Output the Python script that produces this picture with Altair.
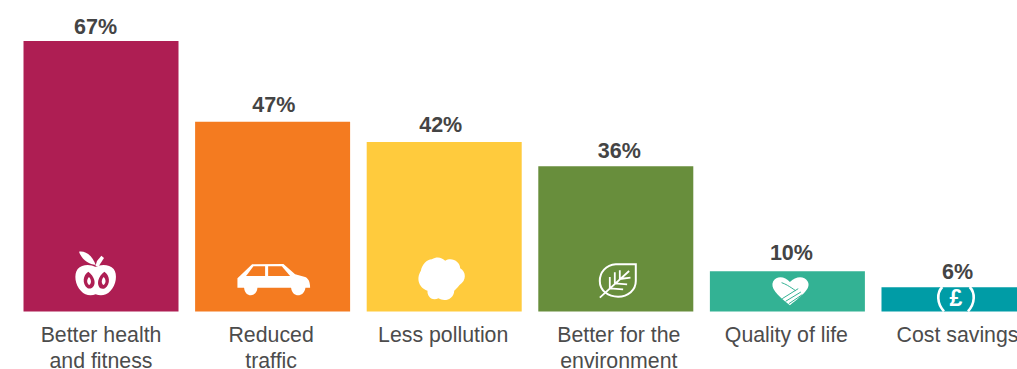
import re
import altair as alt
import pandas as pd

categories = ["Better health\nand fitness", "Reduced\ntraffic", "Less pollution",
              "Better for the\nenvironment", "Quality of life", "Cost savings"]
values = [67, 47, 42, 36, 10, 6]
colors = ["#ae1e53", "#f47b20", "#ffcb3d", "#688e3c", "#33b294", "#009ca6"]
value_text = ["67%", "47%", "42%", "36%", "10%", "6%"]

# Small horizontal and vertical nudges for the two kinds of label
value_dx = [-5.5, 1.2, -3.5, 3.5, 4, -1.5]
value_dy = [-7.5, -10, -10, -8.5, -11, -8]
category_dx = [0, -1.5, -1, 3, -1, -1.5]

FONT = "Liberation Sans"
TEXT = "#444444"
WHITE = "#ffffff"


def icon(path, ox, oy):
    """Turn a path drawn at 3x into unit-scale coordinates around (ox, oy)."""
    nums = iter(re.findall(r"[A-Za-z]|-?\d+\.?\d*", path))
    out, is_x = [], True
    for tok in nums:
        if tok.isalpha():
            out.append(tok)
            is_x = True
        else:
            v = float(tok) / 3 + (ox if is_x else oy)
            out.append(f"{v:.2f}")
            is_x = not is_x
    return " ".join(out)


APPLE = (-36, -66.5)
CAR = (-42.5, -56.5)
CLOUD = (-34, -61.5)
LEAF = (-26, -56.5)
HEART = (-22.5, -43.5)
POUND = (-29, -31.5)

# (category index, path, fill, stroke, stroke width)
icon_parts = [
    # apple
    (0, icon("M92 66C75 56 50 58 38 72C26 88 30 120 48 138C60 152 78 153 92 148C106 153 124 152 136 138C154 120 158 88 146 72C134 58 108 56 92 66Z", *APPLE), WHITE, None, 0),
    (0, icon("M42 20C62 16 84 34 92 60C72 58 50 44 42 20Z", *APPLE), WHITE, None, 0),
    (0, icon("M91 64L101 64L117 39L109 32L96 48Z", *APPLE), WHITE, None, 0),
    (0, icon("M70 80C54 90 50 116 68 130C80 134 92 124 88 106C86 96 78 86 70 80Z", *APPLE), colors[0], None, 0),
    (0, icon("M118 80C134 90 138 116 120 130C106 136 96 124 100 106C102 96 110 86 118 80Z", *APPLE), colors[0], None, 0),
    (0, icon("M72 96C64 104 65 116 73 120C80 114 79 104 72 96Z", *APPLE), WHITE, None, 0),
    (0, icon("M116 96C124 104 123 116 115 120C108 114 109 104 116 96Z", *APPLE), WHITE, None, 0),
    # car
    (1, icon("M22 70L30 62L66 28L160 27L195 58L225 66C235 70 240 80 240 98L226 98C222 128 186 128 183 98L82 98C80 128 44 128 42 98L22 98Z", *CAR), WHITE, None, 0),
    (1, icon("M70 34L105 34L105 63L48 63Z", *CAR), colors[1], None, 0),
    (1, icon("M114 34L155 34L180 63L114 63Z", *CAR), colors[1], None, 0),
    # cloud
    (2, icon("M65 28C80 18 95 22 105 32C125 20 150 35 150 55C168 65 170 92 148 105C140 115 135 120 132 122C132 145 105 158 85 145C62 155 50 135 52 122C30 115 15 90 32 62C35 45 50 28 65 28Z", *CLOUD), WHITE, None, 0),
    # leaf
    (3, icon("M138 28L78 28C48 30 30 52 30 78C30 108 56 125 85 125C115 125 138 105 138 78Z", *LEAF), None, WHITE, 2),
    (3, icon("M30 128L118 48M60 100L60 66M75 85L75 52M90 72L90 46M60 100L100 103M75 85L112 88M90 72L122 68", *LEAF), None, WHITE, 1.8),
    # clasped hands in a heart
    (4, icon("M75 42C60 24 35 22 25 40C15 60 35 80 75 112C115 80 140 60 128 40C118 22 92 24 75 42Z", *HEART), WHITE, None, 0),
    (4, icon("M50 44C62 48 72 54 92 68M100 62L52 92M108 72L62 100M112 80L72 107", *HEART), None, colors[4], 1),
    # pound coin, cut off by the bar's edges
    (5, icon("M119 21C136 38 136 70 114 94", *POUND), None, WHITE, 2.6),
    (5, icon("M37 21C20 38 20 70 42 94", *POUND), None, WHITE, 2.6),
]

source = pd.DataFrame({"category": categories, "value": values, "label": value_text})

x_scale = alt.Scale(domain=categories, range=[15.2, 1044.8],
                    paddingInner=0.0967, paddingOuter=0.0484)
y_scale = alt.Scale(domain=[0, 67], range=[311.5, 41], nice=False, zero=False)
x = alt.X("category:N", scale=x_scale, axis=None, sort=None)
y = alt.Y("value:Q", scale=y_scale, axis=None)

layers = [
    alt.Chart(source).mark_bar().encode(
        x=x, y=y, y2=alt.Y2(datum=0),
        color=alt.Color("category:N", scale=alt.Scale(domain=categories, range=colors), legend=None),
    )
]

for i, row in source.iterrows():
    one = source.iloc[[i]]
    layers.append(
        alt.Chart(one).mark_text(
            font=FONT, fontSize=21.5, fontWeight="bold", color=TEXT,
            baseline="alphabetic", dx=value_dx[i], dy=value_dy[i],
        ).encode(x=x, y=y, text="label:N")
    )
    layers.append(
        alt.Chart(one).mark_text(
            font=FONT, fontSize=21.3, color="#4c4c4c", baseline="alphabetic",
            lineBreak="\n", lineHeight=26, dx=category_dx[i],
        ).encode(x=x, y=alt.value(341.5), text="category:N")
    )

for idx, path, fill, stroke, sw in icon_parts:
    props = dict(shape=path, size=4, opacity=1)
    if fill:
        props.update(filled=True, fill=fill, strokeWidth=0)
    else:
        props.update(filled=False, stroke=stroke, strokeWidth=sw)
    layers.append(
        alt.Chart(source.iloc[[idx]]).mark_point(**props).encode(
            x=x, y=alt.Y("base:Q", scale=y_scale, axis=None)
        ).transform_calculate(base="0")
    )

# The pound sign inside the coin
layers.append(
    alt.Chart(source.iloc[[5]]).mark_text(
        text="£", font=FONT, fontSize=23, fontWeight="bold", color=WHITE,
        baseline="alphabetic", dx=-3, dy=-5.5,
    ).encode(x=x, y=alt.Y("base:Q", scale=y_scale, axis=None)).transform_calculate(base="0")
)

chart = alt.layer(*layers).properties(
    width=1017, height=369, background="white", padding=0,
    autosize=alt.AutoSizeParams(type="none"),
).configure_view(stroke=None)

chart.save("out.html", embed_options={"renderer": "svg", "actions": False})
